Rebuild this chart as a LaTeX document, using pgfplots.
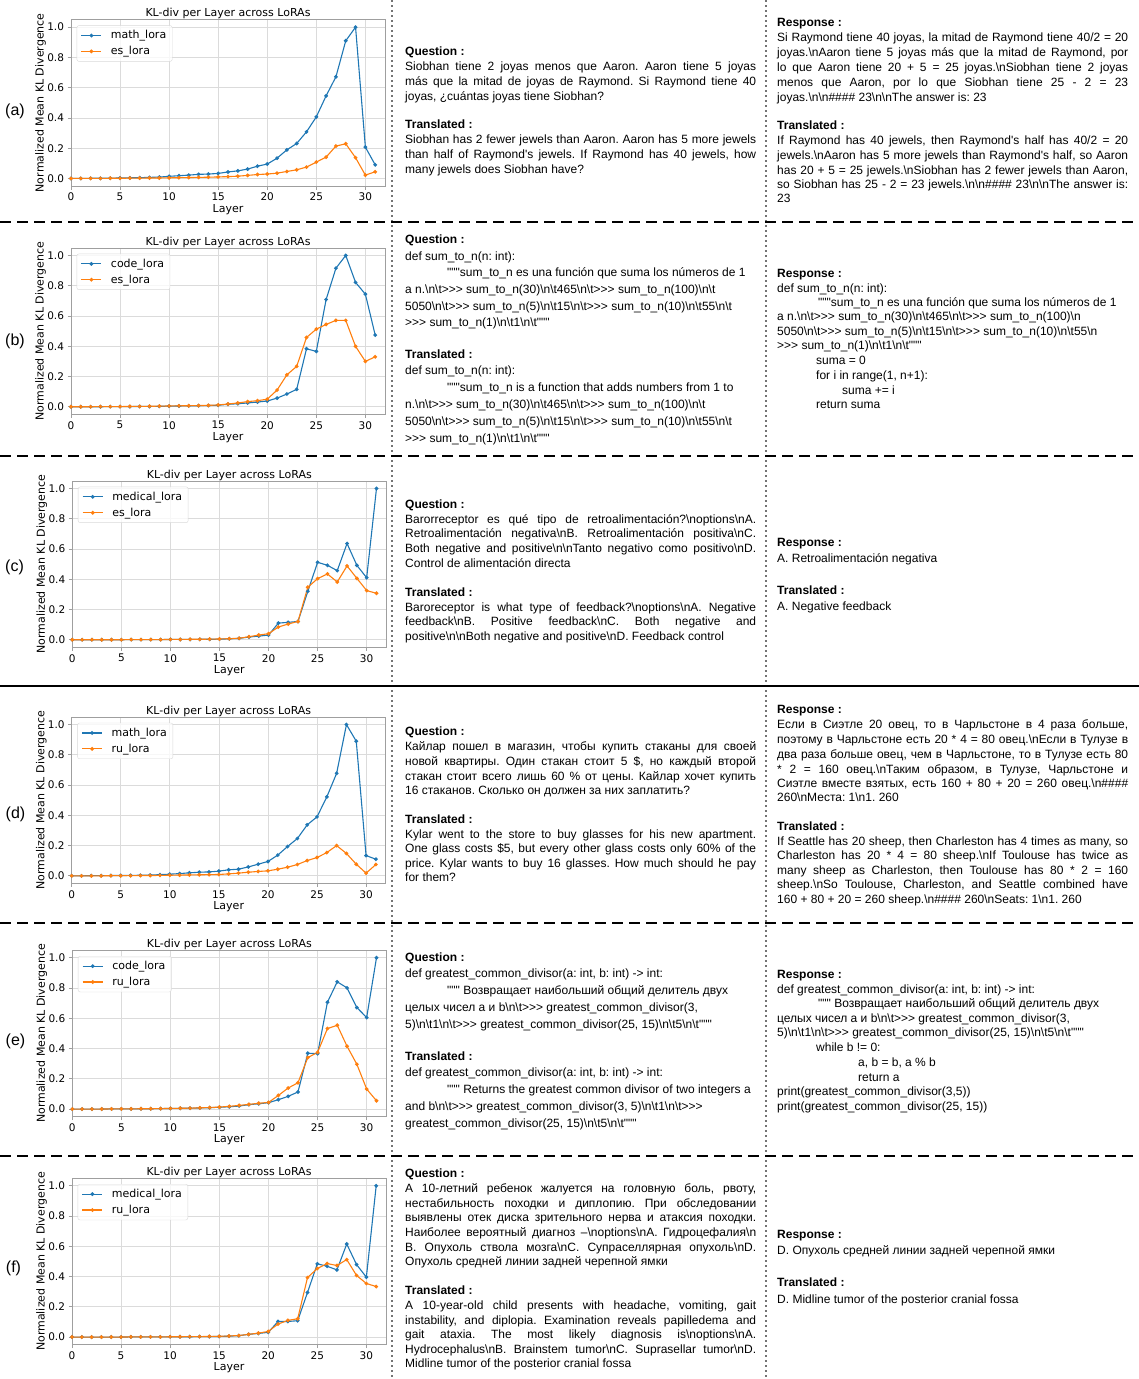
\documentclass[border=0pt]{standalone}
\usepackage{fontspec}
\setmainfont{Liberation Sans}[Ligatures=TeXOff]
\newfontfamily\dejavu{DejaVu Sans}[Ligatures=TeXOff]
\usepackage{pgfplots}
\pgfplotsset{compat=1.18}
\frenchspacing
\definecolor{tblue}{HTML}{1F77B4}
\definecolor{torange}{HTML}{FF7F0E}
\newcommand{\bs}{\textbackslash}
\newcommand{\GGG}{>{}>{}>}
\newcommand{\bodyfont}{\fontsize{12pt}{14pt}\selectfont}
\newcommand{\J}[3]{\node[anchor=base west,inner sep=0pt,font=\bodyfont] at ({#1},{-(#2)-4}) {\makebox[351pt][s]{#3}};}
\newcommand{\T}[3]{\node[anchor=base west,inner sep=0pt,font=\bodyfont] at ({#1},{-(#2)-4}) {#3};}
\newcommand{\Hd}[3]{\node[anchor=base west,inner sep=0pt,font=\bodyfont\bfseries] at ({#1},{-(#2)-4}) {#3};}
\newcommand{\PL}[3]{\node[font=\fontsize{16pt}{18pt}\selectfont] at ({#1},{-(#2)}) {#3};}
\pgfplotsset{
  klax/.style={
    scale only axis, width=314pt, height=166.4pt,
    xmin=0, xmax=32, ymin=-0.05, ymax=1.05,
    xtick={0,5,10,15,20,25,30}, ytick={0,0.2,0.4,0.6,0.8,1},
    grid=major, grid style={gray!28, line width=0.7pt},
    axis line style={gray!75, line width=0.8pt},
    tick align=outside, major tick length=3.5pt, tick style={gray!75, line width=0.7pt},
    tick pos=left,
    yticklabel style={/pgf/number format/.cd, fixed, fixed zerofill, precision=1},
    /pgf/number format/assume math mode=true,
    scaled y ticks=false,
    font=\dejavu\fontsize{11pt}{13pt}\selectfont,
    tick label style={font=\dejavu\fontsize{10.5pt}{12pt}\selectfont},
    title={KL-div per Layer across LoRAs},
    title style={yshift=-9pt},
    xlabel={Layer}, ylabel={Normalized Mean KL Divergence},
    xlabel style={yshift=3.5pt}, ylabel style={yshift=-5.5pt},
    legend style={at={(0.018,0.965)}, anchor=north west, draw=gray!30, rounded corners=2pt,
      fill=white, fill opacity=0.8, text opacity=1, inner xsep=4pt, inner ysep=3pt, row sep=2pt,
      font=\dejavu\fontsize{11pt}{13pt}\selectfont},
    legend cell align=left,
    legend image code/.code={\draw[##1, mark repeat=2, mark phase=2] plot coordinates {(0pt,0pt) (10pt,0pt) (20pt,0pt)}; \path (27pt,0pt);},
    every axis plot/.append style={line width=1.1pt, mark=*, mark size=1.3pt},
  }
}
\begin{document}
\begin{tikzpicture}[x=1pt,y=1pt]
\path[use as bounding box] (0,0) rectangle (1139,-1379);
% separators
\draw[line width=1.3pt, gray!90!black, dash pattern=on 1.5pt off 3.5pt] (392,0) -- (392,-1379);
\draw[line width=1.3pt, gray!90!black, dash pattern=on 1.5pt off 3.5pt] (766,0) -- (766,-1379);
\draw[line width=2pt, dash pattern=on 11pt off 6pt] (0,-222) -- (1139,-222);
\draw[line width=2pt, dash pattern=on 11pt off 6pt] (0,-456) -- (1139,-456);
\draw[line width=2pt] (0,-686) -- (1139,-686);
\draw[line width=2pt, dash pattern=on 11pt off 6pt] (0,-923) -- (1139,-923);
\draw[line width=2pt, dash pattern=on 11pt off 6pt] (0,-1156) -- (1139,-1156);
% panel labels
\PL{15}{111}{(a)}
\PL{15}{341}{(b)}
\PL{14.5}{567}{(c)}
\PL{15.5}{814}{(d)}
\PL{15.5}{1041}{(e)}
\PL{13.5}{1268}{(f)}

% ---------------- (a)
\begin{axis}[klax, at={(71pt,-186pt)}, anchor=south west]
\addplot[color=tblue] coordinates {(0,0) (1,0) (2,0.001) (3,0.001) (4,0.002) (5,0.003) (6,0.004) (7,0.005) (8,0.007) (9,0.009) (10,0.014) (11,0.018) (12,0.022) (13,0.027) (14,0.029) (15,0.033) (16,0.043) (17,0.05) (18,0.062) (19,0.081) (20,0.095) (21,0.134) (22,0.189) (23,0.231) (24,0.308) (25,0.407) (26,0.546) (27,0.672) (28,0.91) (29,1.0) (30,0.207) (31,0.09)};
\addlegendentry{math\_lora}
\addplot[color=torange] coordinates {(0,0) (1,0) (2,0) (3,0) (4,0.001) (5,0.001) (6,0.002) (7,0.002) (8,0.003) (9,0.003) (10,0.004) (11,0.005) (12,0.006) (13,0.007) (14,0.008) (15,0.01) (16,0.012) (17,0.015) (18,0.02) (19,0.026) (20,0.029) (21,0.035) (22,0.046) (23,0.057) (24,0.075) (25,0.108) (26,0.141) (27,0.214) (28,0.229) (29,0.137) (30,0.022) (31,0.044)};
\addlegendentry{es\_lora}
\end{axis}

% ---------------- (b)
\begin{axis}[klax, at={(71pt,-414.3pt)}, anchor=south west]
\addplot[color=tblue] coordinates {(0,0) (1,0) (2,0) (3,0) (4,0.001) (5,0.001) (6,0.001) (7,0.002) (8,0.002) (9,0.003) (10,0.004) (11,0.005) (12,0.006) (13,0.007) (14,0.008) (15,0.01) (16,0.016) (17,0.02) (18,0.025) (19,0.031) (20,0.038) (21,0.057) (22,0.084) (23,0.115) (24,0.383) (25,0.366) (26,0.709) (27,0.916) (28,1.0) (29,0.822) (30,0.744) (31,0.474)};
\addlegendentry{code\_lora}
\addplot[color=torange] coordinates {(0,0) (1,0) (2,0) (3,0.001) (4,0.001) (5,0.001) (6,0.002) (7,0.002) (8,0.003) (9,0.004) (10,0.005) (11,0.006) (12,0.007) (13,0.008) (14,0.009) (15,0.012) (16,0.018) (17,0.025) (18,0.034) (19,0.04) (20,0.05) (21,0.11) (22,0.211) (23,0.267) (24,0.458) (25,0.513) (26,0.544) (27,0.571) (28,0.571) (29,0.399) (30,0.3) (31,0.33)};
\addlegendentry{es\_lora}
\end{axis}

% ---------------- (c)
\begin{axis}[klax, at={(72.3pt,-647.3pt)}, anchor=south west]
\addplot[color=tblue] coordinates {(0,0) (1,0) (2,0) (3,0) (4,0) (5,0) (6,0.001) (7,0.001) (8,0.001) (9,0.001) (10,0.002) (11,0.002) (12,0.002) (13,0.003) (14,0.003) (15,0.004) (16,0.006) (17,0.009) (18,0.018) (19,0.024) (20,0.031) (21,0.11) (22,0.115) (23,0.121) (24,0.32) (25,0.512) (26,0.492) (27,0.457) (28,0.636) (29,0.492) (30,0.41) (31,1.0)};
\addlegendentry{medical\_lora}
\addplot[color=torange] coordinates {(0,0) (1,0) (2,0) (3,0) (4,0) (5,0) (6,0.001) (7,0.001) (8,0.001) (9,0.001) (10,0.002) (11,0.002) (12,0.003) (13,0.003) (14,0.004) (15,0.005) (16,0.007) (17,0.01) (18,0.02) (19,0.031) (20,0.04) (21,0.084) (22,0.104) (23,0.121) (24,0.347) (25,0.404) (26,0.435) (27,0.382) (28,0.488) (29,0.406) (30,0.325) (31,0.307)};
\addlegendentry{es\_lora}
\end{axis}

% ---------------- (d)
\begin{axis}[klax, at={(71.7pt,-883.4pt)}, anchor=south west]
\addplot[color=tblue] coordinates {(0,0) (1,0) (2,0.001) (3,0.001) (4,0.002) (5,0.002) (6,0.003) (7,0.004) (8,0.005) (9,0.008) (10,0.011) (11,0.015) (12,0.02) (13,0.024) (14,0.026) (15,0.031) (16,0.04) (17,0.044) (18,0.059) (19,0.077) (20,0.095) (21,0.137) (22,0.194) (23,0.247) (24,0.337) (25,0.39) (26,0.522) (27,0.678) (28,1.0) (29,0.89) (30,0.134) (31,0.11)};
\addlegendentry{math\_lora}
\addplot[color=torange] coordinates {(0,0) (1,0) (2,0) (3,0) (4,0.001) (5,0.001) (6,0.001) (7,0.002) (8,0.002) (9,0.003) (10,0.004) (11,0.005) (12,0.006) (13,0.007) (14,0.008) (15,0.009) (16,0.013) (17,0.018) (18,0.024) (19,0.029) (20,0.033) (21,0.044) (22,0.057) (23,0.075) (24,0.101) (25,0.121) (26,0.154) (27,0.2) (28,0.148) (29,0.077) (30,0.018) (31,0.075)};
\addlegendentry{ru\_lora}
\end{axis}

% ---------------- (e)
\begin{axis}[klax, at={(72.3pt,-1116.6pt)}, anchor=south west]
\addplot[color=tblue] coordinates {(0,0) (1,0) (2,0) (3,0) (4,0.001) (5,0.001) (6,0.001) (7,0.002) (8,0.002) (9,0.003) (10,0.004) (11,0.005) (12,0.006) (13,0.007) (14,0.009) (15,0.012) (16,0.015) (17,0.02) (18,0.029) (19,0.035) (20,0.042) (21,0.062) (22,0.084) (23,0.113) (24,0.369) (25,0.366) (26,0.706) (27,0.841) (28,0.801) (29,0.671) (30,0.605) (31,1.0)};
\addlegendentry{code\_lora}
\addplot[color=torange] coordinates {(0,0) (1,0) (2,0) (3,0) (4,0.001) (5,0.001) (6,0.001) (7,0.002) (8,0.002) (9,0.003) (10,0.004) (11,0.005) (12,0.006) (13,0.008) (14,0.01) (15,0.013) (16,0.018) (17,0.024) (18,0.031) (19,0.038) (20,0.044) (21,0.09) (22,0.139) (23,0.174) (24,0.34) (25,0.375) (26,0.532) (27,0.554) (28,0.415) (29,0.296) (30,0.132) (31,0.055)};
\addlegendentry{ru\_lora}
\end{axis}

% ---------------- (f)
\begin{axis}[klax, at={(72pt,-1344.6pt)}, anchor=south west]
\addplot[color=tblue] coordinates {(0,0) (1,0) (2,0) (3,0) (4,0) (5,0) (6,0.001) (7,0.001) (8,0.001) (9,0.001) (10,0.002) (11,0.002) (12,0.002) (13,0.003) (14,0.003) (15,0.004) (16,0.006) (17,0.009) (18,0.018) (19,0.024) (20,0.031) (21,0.103) (22,0.103) (23,0.108) (24,0.295) (25,0.484) (26,0.468) (27,0.444) (28,0.615) (29,0.479) (30,0.396) (31,1.0)};
\addlegendentry{medical\_lora}
\addplot[color=torange] coordinates {(0,0) (1,0) (2,0) (3,0) (4,0) (5,0) (6,0.001) (7,0.001) (8,0.001) (9,0.001) (10,0.002) (11,0.002) (12,0.003) (13,0.003) (14,0.004) (15,0.005) (16,0.007) (17,0.01) (18,0.018) (19,0.026) (20,0.037) (21,0.086) (22,0.11) (23,0.121) (24,0.393) (25,0.453) (26,0.486) (27,0.473) (28,0.512) (29,0.407) (30,0.354) (31,0.334)};
\addlegendentry{ru\_lora}
\end{axis}

% ================= TEXT (a)
\Hd{405}{51}{Question :}
\J{405}{66}{Siobhan tiene 2 joyas menos que Aaron. Aaron tiene 5 joyas}
\J{405}{81}{más que la mitad de joyas de Raymond. Si Raymond tiene 40}
\T{405}{96}{joyas, ¿cuántas joyas tiene Siobhan?}
\Hd{405}{124}{Translated :}
\J{405}{139}{Siobhan has 2 fewer jewels than Aaron. Aaron has 5 more jewels}
\J{405}{154}{than half of Raymond's jewels. If Raymond has 40 jewels, how}
\T{405}{169}{many jewels does Siobhan have?}

\Hd{777}{22}{Response :}
\J{777}{37}{Si Raymond tiene 40 joyas, la mitad de Raymond tiene 40/2 = 20}
\J{777}{52}{joyas.\bs nAaron tiene 5 joyas más que la mitad de Raymond, por}
\J{777}{67}{lo que Aaron tiene 20 + 5 = 25 joyas.\bs nSiobhan tiene 2 joyas}
\J{777}{82}{menos que Aaron, por lo que Siobhan tiene 25 - 2 = 23}
\T{777}{97}{joyas.\bs n\bs n\#\#\#\# 23\bs n\bs nThe answer is: 23}
\Hd{777}{125}{Translated :}
\J{777}{140}{If Raymond has 40 jewels, then Raymond's half has 40/2 = 20}
\J{777}{155}{jewels.\bs nAaron has 5 more jewels than Raymond's half, so Aaron}
\J{777}{170}{has 20 + 5 = 25 jewels.\bs nSiobhan has 2 fewer jewels than Aaron,}
\J{777}{184}{so Siobhan has 25 - 2 = 23 jewels.\bs n\bs n\#\#\#\# 23\bs n\bs nThe answer is:}
\T{777}{198}{23}

% ================= TEXT (b)
\Hd{405}{239}{Question :}
\T{405}{256}{def sum\_to\_n(n: int):}
\T{447}{272}{"""sum\_to\_n es una función que suma los números de 1}
\T{405}{289}{a n.\bs n\bs t\GGG{} sum\_to\_n(30)\bs n\bs t465\bs n\bs t\GGG{} sum\_to\_n(100)\bs n\bs t}
\T{405}{306}{5050\bs n\bs t\GGG{} sum\_to\_n(5)\bs n\bs t15\bs n\bs t\GGG{} sum\_to\_n(10)\bs n\bs t55\bs n\bs t}
\T{405}{322}{\GGG{} sum\_to\_n(1)\bs n\bs t1\bs n\bs t"""}
\Hd{405}{354}{Translated :}
\T{405}{370}{def sum\_to\_n(n: int):}
\T{447}{387}{"""sum\_to\_n is a function that adds numbers from 1 to}
\T{405}{404}{n.\bs n\bs t\GGG{} sum\_to\_n(30)\bs n\bs t465\bs n\bs t\GGG{} sum\_to\_n(100)\bs n\bs t}
\T{405}{421}{5050\bs n\bs t\GGG{} sum\_to\_n(5)\bs n\bs t15\bs n\bs t\GGG{} sum\_to\_n(10)\bs n\bs t55\bs n\bs t}
\T{405}{438}{\GGG{} sum\_to\_n(1)\bs n\bs t1\bs n\bs t"""}

\Hd{777}{273}{Response :}
\T{777}{288}{def sum\_to\_n(n: int):}
\T{818}{302}{"""sum\_to\_n es una función que suma los números de 1}
\T{777}{316}{a n.\bs n\bs t\GGG{} sum\_to\_n(30)\bs n\bs t465\bs n\bs t\GGG{} sum\_to\_n(100)\bs n}
\T{777}{331}{5050\bs n\bs t\GGG{} sum\_to\_n(5)\bs n\bs t15\bs n\bs t\GGG{} sum\_to\_n(10)\bs n\bs t55\bs n}
\T{777}{345}{\GGG{} sum\_to\_n(1)\bs n\bs t1\bs n\bs t"""}
\T{816}{360}{suma = 0}
\T{816}{375}{for i in range(1, n+1):}
\T{842}{390}{suma += i}
\T{816}{404}{return suma}

% ================= TEXT (c)
\Hd{405}{504}{Question :}
\J{405}{519}{Barorreceptor es qué tipo de retroalimentación?\bs noptions\bs nA.}
\J{405}{533}{Retroalimentación negativa\bs nB. Retroalimentación positiva\bs nC.}
\J{405}{548}{Both negative and positive\bs n\bs nTanto negativo como positivo\bs nD.}
\T{405}{563}{Control de alimentación directa}
\Hd{405}{592}{Translated :}
\J{405}{607}{Baroreceptor is what type of feedback?\bs noptions\bs nA. Negative}
\J{405}{621}{feedback\bs nB. Positive feedback\bs nC. Both negative and}
\T{405}{636}{positive\bs n\bs nBoth negative and positive\bs nD. Feedback control}

\Hd{777}{542}{Response :}
\T{777}{558}{A. Retroalimentación negativa}
\Hd{777}{590}{Translated :}
\T{777}{606}{A. Negative feedback}

% ================= TEXT (d)
\Hd{405}{731}{Question :}
\J{405}{746}{Кайлар пошел в магазин, чтобы купить стаканы для своей}
\J{405}{761}{новой квартиры. Один стакан стоит 5 \$, но каждый второй}
\J{405}{776}{стакан стоит всего лишь 60 \% от цены. Кайлар хочет купить}
\T{405}{790}{16 стаканов. Сколько он должен за них заплатить?}
\Hd{405}{819}{Translated :}
\J{405}{834}{Kylar went to the store to buy glasses for his new apartment.}
\J{405}{848}{One glass costs \$5, but every other glass costs only 60\% of the}
\J{405}{863}{price. Kylar wants to buy 16 glasses. How much should he pay}
\T{405}{877}{for them?}

\Hd{777}{709}{Response :}
\J{777}{724}{Если в Сиэтле 20 овец, то в Чарльстоне в 4 раза больше,}
\J{777}{739}{поэтому в Чарльстоне есть 20 * 4 = 80 овец.\bs nЕсли в Тулузе в}
\J{777}{754}{два раза больше овец, чем в Чарльстоне, то в Тулузе есть 80}
\J{777}{769}{* 2 = 160 овец.\bs nТаким образом, в Тулузе, Чарльстоне и}
\J{777}{783}{Сиэтле вместе взятых, есть 160 + 80 + 20 = 260 овец.\bs n\#\#\#\#}
\T{777}{797}{260\bs nМеста: 1\bs n1. 260}
\Hd{777}{826}{Translated :}
\J{777}{841}{If Seattle has 20 sheep, then Charleston has 4 times as many, so}
\J{777}{855}{Charleston has 20 * 4 = 80 sheep.\bs nIf Toulouse has twice as}
\J{777}{870}{many sheep as Charleston, then Toulouse has 80 * 2 = 160}
\J{777}{884}{sheep.\bs nSo Toulouse, Charleston, and Seattle combined have}
\T{777}{899}{160 + 80 + 20 = 260 sheep.\bs n\#\#\#\# 260\bs nSeats: 1\bs n1. 260}

% ================= TEXT (e)
\Hd{405}{957}{Question :}
\T{405}{973}{def greatest\_common\_divisor(a: int, b: int) -> int:}
\T{447}{990}{""" Возвращает наибольший общий делитель двух}
\T{405}{1007}{целых чисел a и b\bs n\bs t\GGG{} greatest\_common\_divisor(3,}
\T{405}{1024}{5)\bs n\bs t1\bs n\bs t\GGG{} greatest\_common\_divisor(25, 15)\bs n\bs t5\bs n\bs t"""}
\Hd{405}{1056}{Translated :}
\T{405}{1072}{def greatest\_common\_divisor(a: int, b: int) -> int:}
\T{447}{1089}{""" Returns the greatest common divisor of two integers a}
\T{405}{1106}{and b\bs n\bs t\GGG{} greatest\_common\_divisor(3, 5)\bs n\bs t1\bs n\bs t\GGG}
\T{405}{1123}{greatest\_common\_divisor(25, 15)\bs n\bs t5\bs n\bs t"""}

\Hd{777}{974}{Response :}
\T{777}{989}{def greatest\_common\_divisor(a: int, b: int) -> int:}
\T{818}{1003}{""" Возвращает наибольший общий делитель двух}
\T{777}{1018}{целых чисел a и b\bs n\bs t\GGG{} greatest\_common\_divisor(3,}
\T{777}{1032}{5)\bs n\bs t1\bs n\bs t\GGG{} greatest\_common\_divisor(25, 15)\bs n\bs t5\bs n\bs t"""}
\T{816}{1047}{while b != 0:}
\T{858}{1062}{a, b = b, a \% b}
\T{858}{1077}{return a}
\T{777}{1091}{print(greatest\_common\_divisor(3,5))}
\T{777}{1106}{print(greatest\_common\_divisor(25, 15))}

% ================= TEXT (f)
\Hd{405}{1173}{Question :}
\J{405}{1188}{А 10-летний ребенок жалуется на головную боль, рвоту,}
\J{405}{1203}{нестабильность походки и диплопию. При обследовании}
\J{405}{1217}{выявлены отек диска зрительного нерва и атаксия походки.}
\J{405}{1232}{Наиболее вероятный диагноз –\bs noptions\bs nA. Гидроцефалия\bs n}
\J{405}{1247}{B. Опухоль ствола мозга\bs nC. Супраселлярная опухоль\bs nD.}
\T{405}{1261}{Опухоль средней линии задней черепной ямки}
\Hd{405}{1290}{Translated :}
\J{405}{1305}{A 10-year-old child presents with headache, vomiting, gait}
\J{405}{1320}{instability, and diplopia. Examination reveals papilledema and}
\J{405}{1334}{gait ataxia. The most likely diagnosis is\bs noptions\bs nA.}
\J{405}{1349}{Hydrocephalus\bs nB. Brainstem tumor\bs nC. Suprasellar tumor\bs nD.}
\T{405}{1363}{Midline tumor of the posterior cranial fossa}

\Hd{777}{1234}{Response :}
\T{777}{1250}{D. Опухоль средней линии задней черепной ямки}
\Hd{777}{1282}{Translated :}
\T{777}{1299}{D. Midline tumor of the posterior cranial fossa}
\end{tikzpicture}
\end{document}
